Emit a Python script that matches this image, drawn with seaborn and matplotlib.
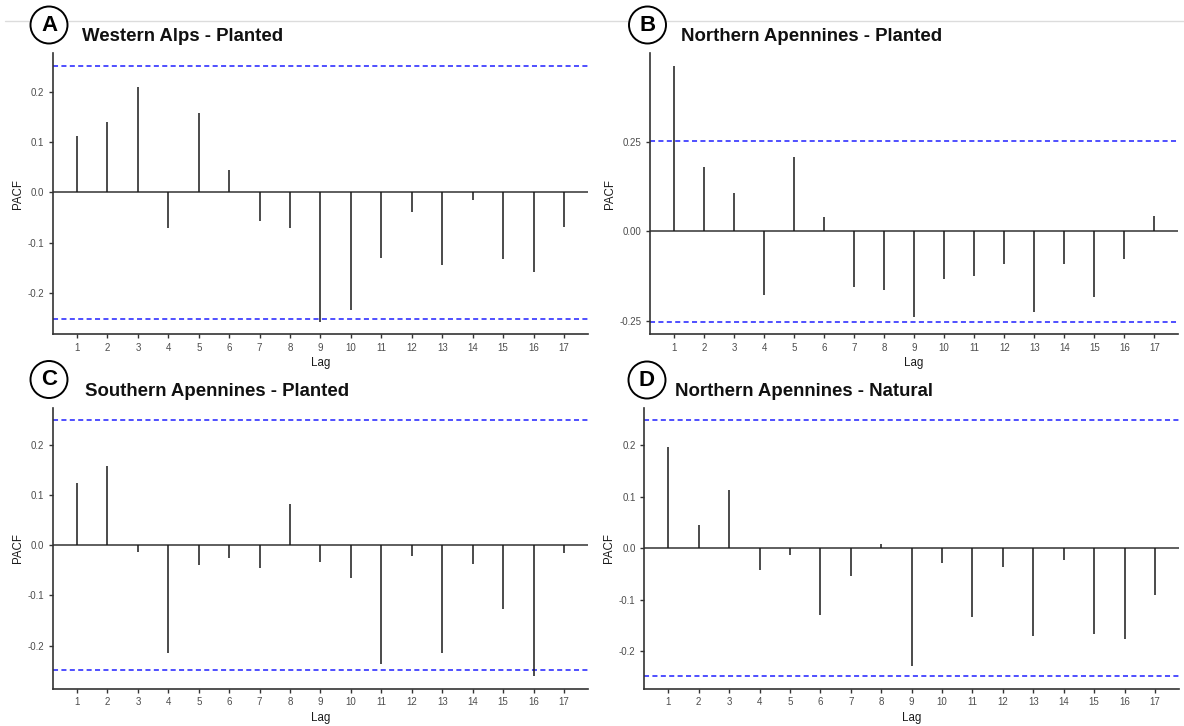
import matplotlib
matplotlib.use("Agg")
import matplotlib.pyplot as plt
from matplotlib.patches import Ellipse
from matplotlib.lines import Line2D
from matplotlib.ticker import FixedLocator, FixedFormatter
import pandas as pd
import seaborn as sns

# ---- data -------------------------------------------------------------
lags = list(range(1, 18))

western_alps_planted = [0.111, 0.140, 0.210, -0.072, 0.157, 0.044, -0.058, -0.072,
                        -0.257, -0.234, -0.130, -0.039, -0.145, -0.015, -0.133, -0.159, -0.069]
northern_apennines_planted = [0.460, 0.179, 0.106, -0.176, 0.208, 0.041, -0.156, -0.162,
                              -0.238, -0.132, -0.123, -0.091, -0.225, -0.091, -0.182, -0.077, 0.044]
southern_apennines_planted = [0.123, 0.157, -0.014, -0.215, -0.040, -0.025, -0.045, 0.081,
                              -0.033, -0.065, -0.236, -0.021, -0.215, -0.037, -0.127, -0.261, -0.016]
northern_apennines_natural = [0.196, 0.046, 0.114, -0.042, -0.013, -0.130, -0.054, 0.009,
                              -0.229, -0.029, -0.133, -0.036, -0.170, -0.022, -0.167, -0.175, -0.091]

panel_letters = ["A", "B", "C", "D"]
panel_titles = ["Western Alps - Planted", "Northern Apennines - Planted",
                "Southern Apennines - Planted", "Northern Apennines - Natural"]
panel_values = [western_alps_planted, northern_apennines_planted,
                southern_apennines_planted, northern_apennines_natural]
conf_limits = [0.251, 0.251, 0.248, 0.248]

ytick_values = [[-0.2, -0.1, 0.0, 0.1, 0.2],
                [-0.25, 0.0, 0.25],
                [-0.2, -0.1, 0.0, 0.1, 0.2],
                [-0.2, -0.1, 0.0, 0.1, 0.2]]
ytick_labels = [["-0.2", "-0.1", "0.0", "0.1", "0.2"],
                ["-0.25", "0.00", "0.25"],
                ["-0.2", "-0.1", "0.0", "0.1", "0.2"],
                ["-0.2", "-0.1", "0.0", "0.1", "0.2"]]

# ---- layout (pixels) --------------------------------------------------
W, H = 1184, 726
axes_px = [(52.7, 53.3, 588.3, 334.3),
           (650.0, 53.3, 1178.3, 334.3),
           (52.7, 407.7, 588.3, 689.0),
           (644.0, 407.7, 1179.3, 689.0)]
circle_px = [(49, 25), (647.5, 25), (49, 379.5), (647, 380)]
title_px = [(81.7, 36.5), (681, 36.5), (85, 391.7), (675, 391.7)]

sns.set_theme(style="ticks")
plt.rcParams["font.family"] = ["Liberation Sans", "DejaVu Sans"]

fig = plt.figure(figsize=(W / 100, H / 100), dpi=100)
fig.patch.set_facecolor("white")

# light rule across the top
fig.add_artist(Line2D([5 / W, 1.0], [1 - 20.7 / H, 1 - 20.7 / H],
                      transform=fig.transFigure, color="#dcdcdc", lw=1.0))

axis_col = "#333333"
for i in range(4):
    x0, y0, x1, y1 = axes_px[i]
    ax = fig.add_axes([x0 / W, 1 - y1 / H, (x1 - x0) / W, (y1 - y0) / H])
    df = pd.DataFrame({"Lag": lags, "PACF": panel_values[i]})
    ci = conf_limits[i]

    ax.axhline(0, color=axis_col, lw=1.1, zorder=2)
    ax.axhline(ci, color="#1f1fff", lw=1.1, ls=(0, (3.3, 2.2)), zorder=1)
    ax.axhline(-ci, color="#1f1fff", lw=1.1, ls=(0, (3.3, 2.2)), zorder=1)
    ax.vlines(df["Lag"], 0, df["PACF"], color="#1a1a1a", lw=1.1, zorder=3)

    lo = min(df["PACF"].min(), -ci)
    hi = max(df["PACF"].max(), ci)
    pad = 0.05 * (hi - lo)
    ax.set_ylim(lo - pad, hi + pad)
    ax.set_xlim(0.2, 17.8)

    ax.xaxis.set_major_locator(FixedLocator(lags))
    ax.xaxis.set_major_formatter(FixedFormatter([str(l) for l in lags]))
    ax.yaxis.set_major_locator(FixedLocator(ytick_values[i]))
    ax.yaxis.set_major_formatter(FixedFormatter(ytick_labels[i]))

    sns.despine(ax=ax)
    for side in ("left", "bottom"):
        ax.spines[side].set_color(axis_col)
        ax.spines[side].set_linewidth(1.2)
    ax.tick_params(axis="both", length=3, width=1.0, color=axis_col,
                   labelsize=7, labelcolor="#4d4d4d", pad=3)
    ax.set_xlabel("Lag", fontsize=8.3, color="#1a1a1a", labelpad=3)
    ax.set_ylabel("PACF", fontsize=8.3, color="#1a1a1a", labelpad=3)
    ax.grid(False)
    ax.set_facecolor("white")

    # panel title
    tx, ty = title_px[i]
    fig.text(tx / W, 1 - ty / H, panel_titles[i], fontsize=13.4, fontweight="bold",
             color="#111111", ha="left", va="center")

    # circled panel letter
    cx, cy = circle_px[i]
    r = 18.5
    fig.add_artist(Ellipse((cx / W, 1 - cy / H), 2 * r / W, 2 * r / H,
                           transform=fig.transFigure, facecolor="white",
                           edgecolor="black", lw=1.4, zorder=5))
    fig.text(cx / W, 1 - (cy + 0.5) / H, panel_letters[i], fontsize=16, fontweight="bold",
             color="black", ha="center", va="center", zorder=6)

fig.savefig("out.png", dpi=100, facecolor="white")
